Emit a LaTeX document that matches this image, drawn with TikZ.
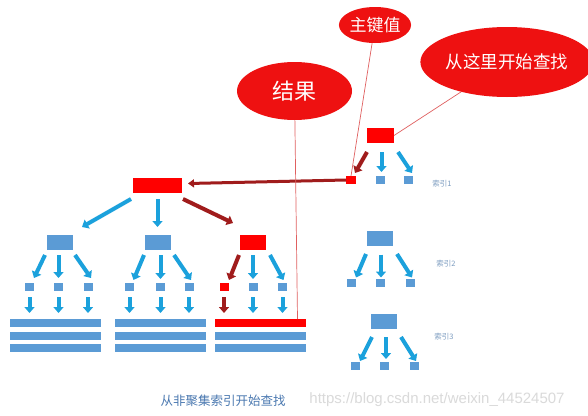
\documentclass[tikz,border=0pt]{standalone}
\usepackage{fontspec}
\setmainfont{Liberation Sans}
\newfontfamily\cjk{Noto Sans CJK SC}
\usetikzlibrary{arrows.meta,calc,shapes.geometric}
\definecolor{boxblue}{HTML}{5B9BD5}
\definecolor{arrblue}{HTML}{1BA1DC}
\definecolor{hired}{HTML}{FF0000}
\definecolor{darkred}{HTML}{A01C1C}
\definecolor{ellred}{HTML}{EE1111}
\definecolor{pinkline}{HTML}{E06060}
\definecolor{labblue}{HTML}{7C9CC0}
\definecolor{capblue}{HTML}{4A78B0}
\definecolor{wmgray}{HTML}{DADADA}
\begin{document}
\begin{tikzpicture}[x=1pt,y=-1pt,
  bx/.style={rectangle,inner sep=0pt,outer sep=0pt,fill=boxblue},
  rbx/.style={rectangle,inner sep=0pt,outer sep=0pt,fill=hired},
  big/.style={minimum width=26pt,minimum height=15pt},
  sq/.style={minimum width=9pt,minimum height=8pt},
  bar/.style={minimum width=91pt,minimum height=8pt},
  barr/.style={draw=arrblue,line width=4pt,-{Triangle[length=6pt,width=10pt]}},
  rarr/.style={draw=darkred,line width=4pt,-{Triangle[length=6pt,width=10pt]}},
  longarr/.style={draw=darkred,line width=3pt,-{Triangle[length=6pt,width=8pt]}},
  thin/.style={draw=pinkline,line width=0.7pt},
  bubble/.style={ellipse,fill=ellred,inner sep=0pt,text=white},
  lab/.style={text=labblue,font=\cjk\fontsize{7.5}{8}\selectfont,inner sep=0pt}
]
\fill[white] (0,0) rectangle (588,415);
\useasboundingbox (0,0) rectangle (588,415);

% ---------- main tree ----------
\node[rbx,minimum width=49pt,minimum height=15pt] (R) at (157.5,185.5) {};
\node[bx,big] (A) at (60,242.5) {};
\node[bx,big] (B) at (158,242.5) {};
\node[rbx,big] (C) at (253,242.5) {};

\node[bx,sq] (a1) at (29.5,287) {};
\node[bx,sq] (a2) at (58.5,287) {};
\node[bx,sq] (a3) at (88,287) {};
\node[bx,sq] (b1) at (129.5,287) {};
\node[bx,sq] (b2) at (160.5,287) {};
\node[bx,sq] (b3) at (189,287) {};
\node[rbx,sq] (c1) at (224,287) {};
\node[bx,sq] (c2) at (253,287) {};
\node[bx,sq] (c3) at (282.5,287) {};

\node[bx,bar] (ab1) at (55.5,323) {};
\node[bx,bar] (ab2) at (55.5,336) {};
\node[bx,bar] (ab3) at (55.5,348) {};
\node[bx,bar] (bb1) at (160,323) {};
\node[bx,bar] (bb2) at (160,336) {};
\node[bx,bar] (bb3) at (160,348) {};
\node[rbx,bar] (cb1) at (260,323) {};
\node[bx,bar] (cb2) at (260,336) {};
\node[bx,bar] (cb3) at (260,348) {};

% level 1 arrows
\draw[barr] ($(R.south)+(-26.5,6)$) -- ($(A.north)+(22,-8)$);
\draw[barr] ($(R.south)+(0,6)$) -- ($(R.south)+(0,34)$);
\draw[rarr] ($(R.south)+(25.5,6)$) -- ($(C.north)+(-20,-12)$);

% level 2 arrows
\draw[barr] ($(A.south)+(-15,5)$) -- ($(a1.north)+(4.5,-5)$);
\draw[barr] ($(a2.north)+(0,-28)$) -- ($(a2.north)+(0,-5)$);
\draw[barr] ($(A.south)+(15,5)$) -- ($(a3.north)+(3,-5)$);
\draw[barr] ($(B.south)+(-14,5)$) -- ($(b1.north)+(4,-3)$);
\draw[barr] ($(b2.north)+(0,-28)$) -- ($(b2.north)+(0,-4)$);
\draw[barr] ($(B.south)+(16,5)$) -- ($(b3.north)+(2,-3)$);
\draw[rarr] ($(C.south)+(-14,5)$) -- ($(c1.north)+(5,-3)$);
\draw[barr] ($(c2.north)+(0,-28)$) -- ($(c2.north)+(0,-4)$);
\draw[barr] ($(C.south)+(17,5)$) -- ($(c3.north)+(1,-3)$);

% level 3 arrows
\foreach \s/\b in {a1/ab1,a2/ab1,a3/ab1,b1/bb1,b2/bb1,b3/bb1,c2/cb1,c3/cb1}{
  \draw[barr] ($(\s.south)+(0,6)$) -- ($(\s.south |- \b.north)+(0,-6)$);
}
\draw[rarr] ($(c1.south)+(0,6)$) -- ($(c1.south |- cb1.north)+(0,-6)$);

% ---------- index 1 ----------
\node[rbx,minimum width=27pt,minimum height=15pt] (I1) at (380.5,135.5) {};
\node[rbx,minimum width=10pt,minimum height=8pt] (i1a) at (351,180) {};
\node[bx,sq] (i1b) at (380.5,180) {};
\node[bx,sq] (i1c) at (408.5,180) {};
\draw[rarr] ($(I1.south)+(-13.5,9)$) -- ($(i1a.north)+(4,-3)$);
\draw[barr] ($(i1b.north)+(1,-24)$) -- ($(i1b.north)+(1,-4)$);
\draw[barr] ($(I1.south)+(17.5,9)$) -- ($(i1c.north)+(3.5,-3)$);
\node[lab] (L1) at (442,184) {索引1};

% ---------- index 2 ----------
\node[bx,big] (I2) at (380,238.5) {};
\node[bx,sq] (i2a) at (351,282.5) {};
\node[bx,sq] (i2b) at (380.5,282.5) {};
\node[bx,sq] (i2c) at (410,282.5) {};
\draw[barr] ($(I2.south)+(-14,8)$) -- ($(i2a.north)+(5,-1)$);
\draw[barr] ($(i2b.north)+(0.5,-24)$) -- ($(i2b.north)+(0.5,-1)$);
\draw[barr] ($(I2.south)+(17,8)$) -- ($(i2c.north)+(2,-1)$);
\node[lab] (L2) at (446,264) {索引2};

% ---------- index 3 ----------
\node[bx,big] (I3) at (384,321.5) {};
\node[bx,sq] (i3a) at (355,366) {};
\node[bx,sq] (i3b) at (384.5,366) {};
\node[bx,sq] (i3c) at (414,366) {};
\draw[barr] ($(I3.south)+(-12,8)$) -- ($(i3a.north)+(5,-1)$);
\draw[barr] ($(i3b.north)+(1.5,-25)$) -- ($(i3b.north)+(1.5,-3)$);
\draw[barr] ($(I3.south)+(17,8)$) -- ($(i3c.north)+(2,-1)$);
\node[lab] (L3) at (444,337) {索引3};

% long arrow
\draw[longarr] (i1a.west) -- ($(R.east)+(6,-2)$);

% ---------- callouts ----------
\node[bubble,minimum width=70pt,minimum height=36pt,font=\cjk\fontsize{17}{17}\selectfont] (E1) at (375,25) {主键值};
\node[bubble,minimum width=140pt,minimum height=70pt,font=\cjk\fontsize{17.5}{18}\selectfont] (E2) at (507,62) {从这里开始查找};
\node[bubble,minimum width=115pt,minimum height=58pt,font=\cjk\fontsize{22}{22}\selectfont] (E3) at (294.5,91) {结果};

\draw[thin] (E1) -- (i1a.north);
\draw[thin] (E2) -- (I1.east);
\draw[thin] (E3) -- ($(cb1.north east)+(-8,0)$);

% ---------- captions ----------
\node[text=capblue,font=\cjk\fontsize{12.5}{13}\selectfont,inner sep=0pt] (cap) at (223,401) {从非聚集索引开始查找};
\node[text=wmgray,font=\fontsize{15}{15}\selectfont,inner sep=0pt] (wm) at (437,400) {https://blog.csdn.net/weixin\_44524507};
\end{tikzpicture}
\end{document}
